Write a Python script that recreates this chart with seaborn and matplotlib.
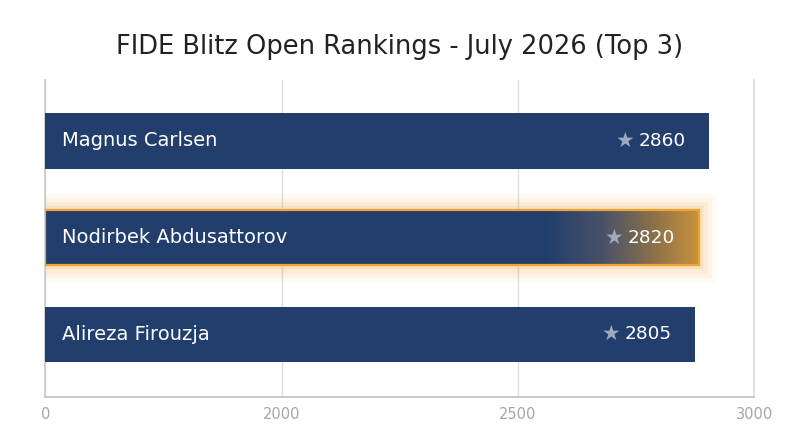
import matplotlib
matplotlib.use("Agg")
import matplotlib.pyplot as plt
from matplotlib.colors import LinearSegmentedColormap
import numpy as np
import pandas as pd
import seaborn as sns

# data
players = ["Magnus Carlsen", "Nodirbek Abdusattorov", "Alireza Firouzja"]
ratings = [2860, 2820, 2805]
highlight = "Nodirbek Abdusattorov"
ticks = [0, 2000, 2500, 3000]

# broken value axis: equal spacing between ticks, stretched near the top ratings
scale_vals = [0, 2000, 2500, 2800, 2870, 3000]
scale_pos = [0, 1, 2, 2.745, 2.82, 3]

navy = "#213e6c"
orange = "#f0a232"

sns.set_theme(style="white")
plt.rcParams["font.family"] = ["DejaVu Sans"]

df = pd.DataFrame({"player": players, "rating": ratings})

fig = plt.figure(figsize=(8, 4.47), dpi=100)
ax = fig.add_axes([0.0566, 0.112, 0.8864, 0.709])

sns.barplot(data=df, x="rating", y="player", orient="h", color=navy,
            saturation=1, width=0.575, linewidth=0, ax=ax, zorder=3)

ax.set_xscale("function", functions=(lambda v: np.interp(v, scale_vals, scale_pos),
                                     lambda p: np.interp(p, scale_pos, scale_vals)))
ax.set_xlim(0, 3000)
ax.set_ylim(2.647, -0.63)

# highlighted bar: glow, gradient, border
hi = players.index(highlight)
hv = ratings[hi]
for lw, a in [(24, 0.05), (18, 0.07), (12, 0.09), (6, 0.14)]:
    ax.barh(hi, hv, height=0.575, fill=False, edgecolor=orange, linewidth=lw,
            alpha=a, zorder=2)
cmap = LinearSegmentedColormap.from_list(
    "hl", [(0, navy), (0.35, "#4a5168"), (0.65, "#866e4a"), (1, "#d0963a")])
edges = np.linspace(2550, hv, 81)
for k in range(80):
    ax.barh(hi, edges[k + 1] - edges[k] + 1, left=edges[k], height=0.575,
            color=cmap((k + 0.5) / 80), linewidth=0, antialiased=False, zorder=4)
ax.barh(hi, hv, height=0.575, fill=False, edgecolor=orange, linewidth=1.6, zorder=5)

# labels inside bars
for i, (p, r) in enumerate(zip(players, ratings)):
    ax.annotate(p, (0, i), xytext=(12.2, 0), textcoords="offset points",
                ha="left", va="center", color="white", fontsize=14, zorder=6)
    ax.annotate(str(r), (r, i), xytext=(-17.3, 0), textcoords="offset points",
                ha="right", va="center", color="white", fontsize=13.3, zorder=6)
    ax.annotate("\u2605", (r, i), xytext=(-61, 0), textcoords="offset points",
                ha="center", va="center", color="#9ea9bd", fontsize=15, zorder=6)

ax.set_xticks(ticks)
ax.set_xticklabels([str(t) for t in ticks])
ax.set_yticks([])
ax.set_xlabel("")
ax.set_ylabel("")
ax.tick_params(axis="x", length=0, pad=7, labelsize=10.5, labelcolor="#a6a6a6")
ax.xaxis.grid(True, color="#e0e0e0", linewidth=1)
ax.set_axisbelow(True)
ax.spines["top"].set_visible(False)
ax.spines["right"].set_color("#dddddd")
ax.spines["left"].set_color("#cccccc")
ax.spines["bottom"].set_color("#c4c4c4")
ax.spines["bottom"].set_linewidth(1.3)

fig.text(0.5, 1 - 47 / 447, "FIDE Blitz Open Rankings - July 2026 (Top 3)",
         ha="center", va="center", fontsize=18.5, color="#222222")

fig.savefig("out.png", dpi=100, facecolor="white")
